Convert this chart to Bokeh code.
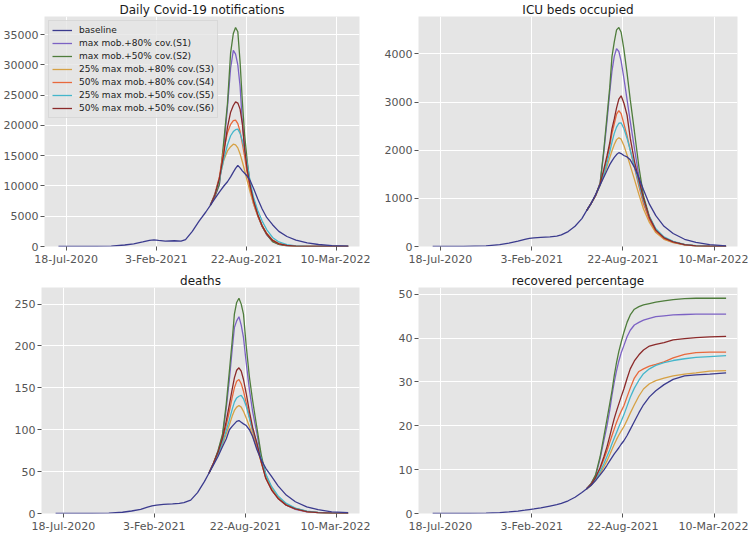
from bokeh.plotting import figure
from bokeh.layouts import column, row
from bokeh.models import Range1d, FixedTicker, SingleIntervalTicker, Legend, LegendItem
from bokeh.embed import file_html
from bokeh.resources import INLINE

# ---------------- data ----------------
scenario_names = [
    "baseline",
    "max mob.+80% cov.(S1)",
    "max mob.+50% cov.(S2)",
    "25% max mob.+80% cov.(S3)",
    "50% max mob.+80% cov.(S4)",
    "25% max mob.+50% cov.(S5)",
    "50% max mob.+50% cov.(S6)",
]
scenario_colors = ["#3b3b8e", "#7c62c4", "#4f7d3c", "#d6a144", "#e8693c", "#44b6cb", "#8b2a2a"]

# x axis: days since 18-Jul-2020
tick_days = [0, 200, 400, 600]
tick_labels = ["18-Jul-2020", "3-Feb-2021", "22-Aug-2021", "10-Mar-2022"]

# shared history (baseline only, before scenarios diverge)
pre_days = [-17, 0, 50, 100, 130, 150, 170, 185, 195, 205, 220, 240, 255, 265, 280, 295, 310]
cases_pre = [0, 0, 10, 60, 250, 450, 750, 1000, 1100, 1000, 900, 950, 900, 1150, 2500, 4200, 5700]
icu_pre = [0, 0, 3, 15, 40, 70, 110, 150, 170, 180, 190, 200, 215, 240, 310, 420, 580]
deaths_pre = [0, 0, 0.1, 0.5, 1.5, 3, 5, 7.5, 9, 10, 11, 11.5, 12, 13, 16, 25, 38]
recovered_pre = [0, 0, 0.02, 0.08, 0.2, 0.35, 0.55, 0.75, 0.9, 1.05, 1.3, 1.7, 2.0, 2.3, 2.9, 3.7, 4.8]

# scenario period
post_days = [320, 330, 340, 350, 358, 365, 371, 376, 381, 386, 391, 396, 402,
             409, 416, 425, 435, 445, 458, 472, 490, 510, 535, 560, 590, 626]

cases_base = [6800, 7900, 9000, 10000, 10700, 11500, 12300, 12900, 13400, 13000, 12500, 12100, 11600,
              10800, 9600, 7900, 6200, 4800, 3600, 2500, 1650, 1050, 600, 330, 150, 50]
cases_s1 = [6800, 8200, 10200, 16500, 23000, 29500, 32400, 31800, 30000, 26500, 20500, 16500, 12500,
            9300, 7000, 5100, 3300, 1950, 850, 360, 120, 40, 10, 2, 0, 0]
cases_s2 = [6800, 8300, 10300, 17500, 23600, 32000, 35200, 36200, 35500, 30500, 24000, 18500, 14000,
            10000, 7500, 5300, 3300, 2000, 820, 350, 120, 40, 10, 2, 0, 0]
cases_s3 = [6800, 8500, 11200, 14300, 15800, 16500, 16900, 16800, 16300, 15300, 14000, 12600, 10800,
            8800, 7000, 5100, 3400, 2200, 1100, 500, 200, 70, 20, 5, 0, 0]
cases_s4 = [6800, 8700, 11500, 16100, 18800, 20200, 20800, 20900, 20300, 19000, 17000, 14900, 12000,
            9500, 7300, 5200, 3400, 2100, 1000, 450, 170, 60, 15, 3, 0, 0]
cases_s5 = [6800, 8600, 11000, 14500, 16800, 18300, 19000, 19300, 19400, 18700, 17500, 16000, 13600,
            10400, 8100, 6000, 4200, 2800, 1500, 750, 300, 110, 30, 8, 2, 0]
cases_s6 = [6800, 8500, 11200, 15400, 19700, 22200, 23300, 23900, 23700, 22700, 20300, 16200, 12600,
            9800, 7500, 5300, 3400, 2100, 1000, 450, 170, 60, 15, 3, 0, 0]

icu_base = [740, 890, 1080, 1280, 1440, 1580, 1700, 1780, 1850, 1910, 1950, 1930, 1890,
            1860, 1800, 1650, 1430, 1180, 880, 640, 420, 270, 150, 85, 40, 15]
icu_s1 = [740, 890, 1060, 1320, 1950, 2600, 3200, 3650, 3950, 4110, 4050, 3850, 3500,
          3050, 2600, 2050, 1450, 950, 560, 310, 160, 85, 35, 12, 4, 1]
icu_s2 = [740, 890, 1060, 1320, 2000, 2700, 3300, 3950, 4250, 4500, 4550, 4450, 4100,
          3600, 3050, 2400, 1650, 1050, 620, 340, 180, 95, 40, 15, 5, 2]
icu_s3 = [740, 890, 1060, 1270, 1470, 1660, 1840, 1990, 2120, 2220, 2260, 2230, 2100,
          1900, 1680, 1400, 1080, 780, 500, 290, 150, 80, 33, 12, 4, 1]
icu_s4 = [740, 890, 1060, 1290, 1550, 1820, 2080, 2350, 2550, 2750, 2820, 2760, 2550,
          2300, 2000, 1650, 1250, 880, 560, 320, 170, 90, 38, 14, 5, 2]
icu_s5 = [740, 890, 1060, 1280, 1500, 1740, 1960, 2170, 2350, 2480, 2560, 2570, 2450,
          2250, 2000, 1680, 1300, 950, 620, 370, 200, 105, 45, 18, 6, 2]
icu_s6 = [740, 890, 1060, 1300, 1600, 1880, 2150, 2450, 2650, 2880, 3060, 3130, 2980,
          2730, 2250, 1780, 1380, 1000, 600, 340, 180, 95, 40, 15, 5, 2]

deaths_base = [48, 58, 68, 80, 89, 100, 104, 107, 110, 111, 109, 107, 105,
               100, 92, 77, 64, 54, 44, 33, 22, 14, 8, 4.5, 2, 1]
deaths_s1 = [48, 60, 74, 93, 125, 160, 195, 222, 230, 235, 225, 210, 180,
             148, 122, 97, 66, 43, 28, 18, 10, 5, 2, 1, 0.3, 0.1]
deaths_s2 = [48, 60, 75, 95, 130, 170, 205, 238, 252, 257, 250, 238, 200,
             163, 135, 104, 70, 46, 30, 19, 11, 6, 2.5, 1, 0.3, 0.1]
deaths_s3 = [48, 59, 70, 83, 95, 106, 116, 123, 127, 129, 127, 122, 114,
             104, 93, 79, 61, 44, 30, 19, 11, 6, 2.5, 1, 0.4, 0.2]
deaths_s4 = [48, 60, 72, 88, 105, 122, 138, 150, 158, 160, 155, 146, 132,
             115, 98, 82, 61, 42, 28, 18, 10, 5.5, 2.3, 1, 0.4, 0.2]
deaths_s5 = [48, 59, 71, 85, 99, 112, 124, 133, 138, 140, 141, 137, 128,
             114, 100, 85, 65, 47, 32, 21, 12, 6.5, 2.8, 1.2, 0.5, 0.2]
deaths_s6 = [48, 60, 73, 90, 110, 130, 148, 162, 171, 174, 170, 160, 143,
             122, 103, 85, 62, 42, 28, 18, 10, 5.5, 2.3, 1, 0.4, 0.2]

recovered_base = [5.6, 6.4, 7.5, 8.8, 9.9, 11.0, 12.0, 12.8, 13.6, 14.3, 15.0, 15.8, 16.6,
                  17.8, 19.2, 21.0, 23.0, 24.8, 26.6, 28.0, 29.4, 30.6, 31.4, 31.6, 31.8, 32.1]
recovered_s1 = [5.6, 6.8, 8.6, 12.5, 16.5, 20.0, 23.5, 27.0, 30.0, 32.6, 34.8, 36.6, 38.3,
                40.3, 41.8, 43.0, 43.6, 44.1, 44.5, 44.9, 45.1, 45.3, 45.4, 45.5, 45.5, 45.5]
recovered_s2 = [5.6, 6.8, 8.8, 13.0, 17.5, 21.5, 25.0, 28.0, 31.5, 34.5, 37.0, 39.0, 41.3,
                43.6, 45.3, 46.6, 47.2, 47.6, 47.9, 48.2, 48.5, 48.8, 49.0, 49.1, 49.1, 49.1]
recovered_s3 = [5.6, 6.4, 7.6, 9.1, 10.6, 12.0, 13.4, 14.6, 15.8, 16.9, 17.9, 18.8, 19.8,
                21.3, 22.9, 24.8, 26.8, 28.4, 29.6, 30.3, 30.9, 31.4, 31.8, 32.1, 32.5, 32.6]
recovered_s4 = [5.6, 6.6, 8.1, 10.2, 12.3, 14.3, 16.2, 17.8, 19.3, 20.8, 22.1, 23.3, 24.6,
                26.6, 28.6, 30.9, 32.4, 33.0, 33.6, 34.0, 34.6, 35.5, 36.3, 36.7, 36.8, 36.8]
recovered_s5 = [5.6, 6.5, 7.8, 9.6, 11.3, 13.0, 14.5, 15.9, 17.2, 18.5, 19.8, 21.0, 22.5,
                24.5, 26.5, 28.6, 30.4, 31.9, 33.0, 33.8, 34.4, 34.9, 35.3, 35.6, 35.8, 36.0]
recovered_s6 = [5.6, 6.6, 8.2, 10.5, 12.9, 15.2, 17.6, 19.7, 21.7, 23.4, 25.0, 26.6, 28.4,
                30.8, 33.0, 34.8, 36.2, 37.3, 38.2, 38.6, 39.0, 39.6, 39.9, 40.1, 40.3, 40.4]

panel_titles = ["Daily Covid-19 notifications", "ICU beds occupied", "deaths", "recovered percentage"]
y_intervals = [5000, 1000, 50, 10]

# ---------------- styling helpers ----------------
FONT = "DejaVu Sans"
X_START, X_END = -48, 651


def make_panel(title, pre, scen, interval, width, height, bl, br, bt, bb, with_legend=False):
    ymax = max(max(pre), max(max(s) for s in scen)) * 1.05
    p = figure(width=width, height=height, output_backend="svg", toolbar_location=None,
               x_range=Range1d(X_START, X_END), y_range=Range1d(0, ymax),
               min_border_left=bl, min_border_right=br, min_border_top=bt, min_border_bottom=bb)
    p.title.text = title
    p.title.align = "center"
    p.title.text_font = FONT
    p.title.text_font_size = "12px"
    p.title.text_font_style = "normal"
    p.title.text_color = "#1a1a1a"
    p.title.standoff = 0
    p.background_fill_color = "#E5E5E5"
    p.border_fill_color = "white"
    p.outline_line_color = None
    p.grid.grid_line_color = "white"
    p.grid.grid_line_width = 1
    p.xaxis.ticker = FixedTicker(ticks=tick_days)
    p.xaxis.major_label_overrides = {d: lab for d, lab in zip(tick_days, tick_labels)}
    p.yaxis.ticker = SingleIntervalTicker(interval=interval, num_minor_ticks=0)
    for ax in (p.xaxis[0], p.yaxis[0]):
        ax.axis_line_color = None
        ax.major_tick_line_color = "#555555"
        ax.major_tick_out = 4
        ax.major_tick_in = 0
        ax.minor_tick_line_color = None
        ax.major_label_text_font = FONT
        ax.major_label_text_font_size = "11px"
        ax.major_label_text_color = "#555555"
        ax.major_label_standoff = 2

    renderers = []
    for i in range(1, 7):
        r = p.line(post_days, scen[i], line_color=scenario_colors[i], line_width=1.3)
        renderers.append(r)
    base_days = pre_days + post_days
    base_vals = pre + scen[0]
    r0 = p.line(base_days, base_vals, line_color=scenario_colors[0], line_width=1.3)
    renderers = [r0] + renderers

    if with_legend:
        items = [LegendItem(label=n, renderers=[r]) for n, r in zip(scenario_names, renderers)]
        leg = Legend(items=items, location="top_left")
        leg.label_text_font = FONT
        leg.label_text_font_size = "9px"
        leg.label_text_color = "#222222"
        leg.glyph_width = 20
        leg.glyph_height = 12
        leg.label_height = 12
        leg.label_standoff = 7
        leg.spacing = 1
        leg.padding = 3
        leg.margin = 4
        leg.background_fill_color = "#E5E5E5"
        leg.background_fill_alpha = 0.8
        leg.border_line_color = "#CCCCCC"
        leg.border_line_width = 1
        p.add_layout(leg)
    return p


cases_all = [cases_base, cases_s1, cases_s2, cases_s3, cases_s4, cases_s5, cases_s6]
icu_all = [icu_base, icu_s1, icu_s2, icu_s3, icu_s4, icu_s5, icu_s6]
deaths_all = [deaths_base, deaths_s1, deaths_s2, deaths_s3, deaths_s4, deaths_s5, deaths_s6]
recovered_all = [recovered_base, recovered_s1, recovered_s2, recovered_s3, recovered_s4, recovered_s5, recovered_s6]

p1 = make_panel(panel_titles[0], cases_pre, cases_all, y_intervals[0], 370, 268, 41, 11, 15, 21, True)
p2 = make_panel(panel_titles[1], icu_pre, icu_all, y_intervals[1], 378, 268, 48, 11, 15, 21)
p3 = make_panel(panel_titles[2], deaths_pre, deaths_all, y_intervals[2], 370, 267, 41, 11, 19, 18)
p4 = make_panel(panel_titles[3], recovered_pre, recovered_all, y_intervals[3], 378, 267, 48, 11, 19, 18)

layout = column(row(p1, p2), row(p3, p4))
open("out.html", "w").write(file_html(layout, INLINE))
